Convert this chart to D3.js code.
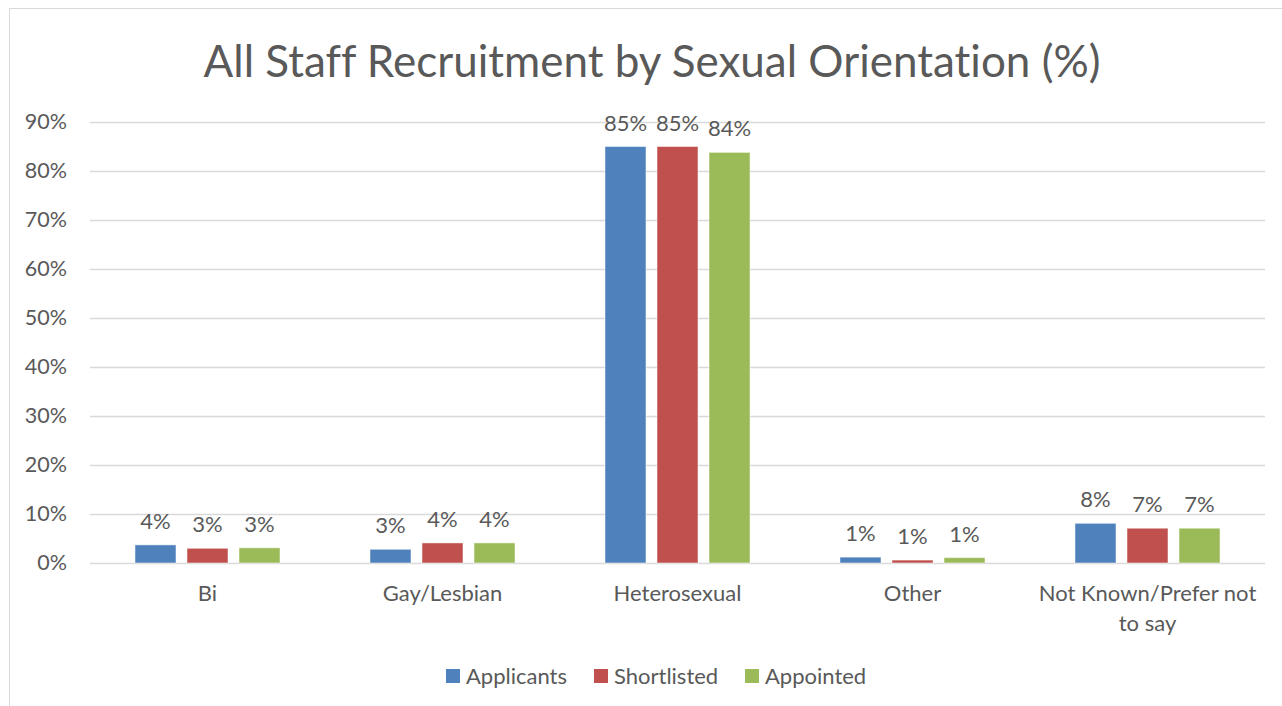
<!DOCTYPE html>
<html>
<head>
<meta charset="utf-8">
<script src="https://cdn.jsdelivr.net/npm/d3@7"></script>
<style>
html,body{margin:0;padding:0;background:#fff;}
svg text{font-family:Lato,"Open Sans",sans-serif;fill:#595959;font-variant-ligatures:none;font-feature-settings:"liga" 0;}
</style>
</head>
<body>
<svg id="chart" width="1282" height="706"></svg>
<script>
const title = "All Staff Recruitment by Sexual Orientation (%)";
const categories = ["Bi", "Gay/Lesbian", "Heterosexual", "Other", "Not Known/Prefer not to say"];
const categoryLines = [["Bi"], ["Gay/Lesbian"], ["Heterosexual"], ["Other"], ["Not Known/Prefer not", "to say"]];
const seriesNames = ["Applicants", "Shortlisted", "Appointed"];
const applicants = [3.7, 2.8, 85.0, 1.2, 8.1];
const shortlisted = [3.0, 4.1, 85.0, 0.6, 7.1];
const appointed = [3.1, 4.1, 83.8, 1.1, 7.1];
const yTicks = [0, 10, 20, 30, 40, 50, 60, 70, 80, 90];
const colors = ["#4F81BD", "#C0504D", "#9BBB59"];

const seriesValues = [applicants, shortlisted, appointed];
const svg = d3.select("#chart");

// chart border
svg.append("rect").attr("x", 9.5).attr("y", 8.5).attr("width", 1290).attr("height", 720)
  .attr("fill", "none").attr("stroke", "#D9D9D9").attr("stroke-width", 1);

const margin = {left: 90, right: 17, top: 122, bottom: 143};
const W = 1282, H = 706;
const x = d3.scaleBand().domain(categories).range([margin.left, W - margin.right]).paddingInner(0).paddingOuter(0);
const y = d3.scaleLinear().domain([0, 90]).range([H - margin.bottom, margin.top]);
const xs = d3.scaleBand().domain(seriesNames).range([0, x.bandwidth()]).paddingInner(0.2115).paddingOuter(0.865);

// gridlines
svg.append("g").selectAll("line").data(yTicks).join("line")
  .attr("x1", margin.left).attr("x2", W - margin.right)
  .attr("y1", d => Math.round(y(d)) + 0.5).attr("y2", d => Math.round(y(d)) + 0.5)
  .attr("stroke", "#D9D9D9").attr("stroke-width", 1.5);

// y axis labels
const yAxis = d3.axisLeft(y).tickValues(yTicks).tickFormat(d => d + "%").tickSize(0).tickPadding(23);
const yg = svg.append("g").attr("transform", `translate(${margin.left},0)`).call(yAxis);
yg.select(".domain").remove();
yg.selectAll("text").attr("font-size", 21.5).style("font-family", "Lato,'Open Sans',sans-serif").attr("fill", "#595959");

// bars
const groups = svg.append("g").selectAll("g").data(seriesNames).join("g");
groups.each(function(s, si) {
  const g = d3.select(this);
  const vals = seriesValues[si];
  g.selectAll("rect").data(categories).join("rect")
    .attr("x", c => x(c) + xs(s))
    .attr("width", xs.bandwidth())
    .attr("y", (c, i) => y(vals[i]))
    .attr("height", (c, i) => y(0) - y(vals[i]))
    .attr("fill", colors[si])
    .attr("stroke", "#ffffff").attr("stroke-opacity", 0.5).attr("stroke-width", 1);
  g.selectAll("text").data(categories).join("text")
    .attr("x", c => x(c) + xs(s) + xs.bandwidth() / 2)
    .attr("y", (c, i) => y(vals[i]) - 16)
    .attr("text-anchor", "middle")
    .attr("font-size", 22)
    .attr("fill", "#404040")
    .text((c, i) => Math.round(vals[i]) + "%");
});

// x axis labels
const xl = svg.append("g").selectAll("text").data(categories).join("text")
  .attr("x", c => x(c) + x.bandwidth() / 2)
  .attr("y", 601)
  .attr("text-anchor", "middle")
  .attr("font-size", 22);
xl.each(function(c, i) {
  const t = d3.select(this);
  categoryLines[i].forEach((line, li) => {
    t.append("tspan").attr("x", x(c) + x.bandwidth() / 2).attr("dy", li === 0 ? 0 : 30).text(line);
  });
});

// title
svg.append("text").attr("x", 652).attr("y", 77).attr("text-anchor", "middle")
  .attr("font-size", 44).attr("fill", "#595959").text(title);

// legend
const legendX = [446, 594, 745];
const lg = svg.append("g").selectAll("g").data(seriesNames).join("g")
  .attr("transform", (d, i) => `translate(${legendX[i]},669)`);
lg.append("rect").attr("width", 14).attr("height", 14).attr("fill", (d, i) => colors[i]);
lg.append("text").attr("x", 20).attr("y", 15).attr("font-size", 22).text(d => d);
</script>
</body>
</html>
